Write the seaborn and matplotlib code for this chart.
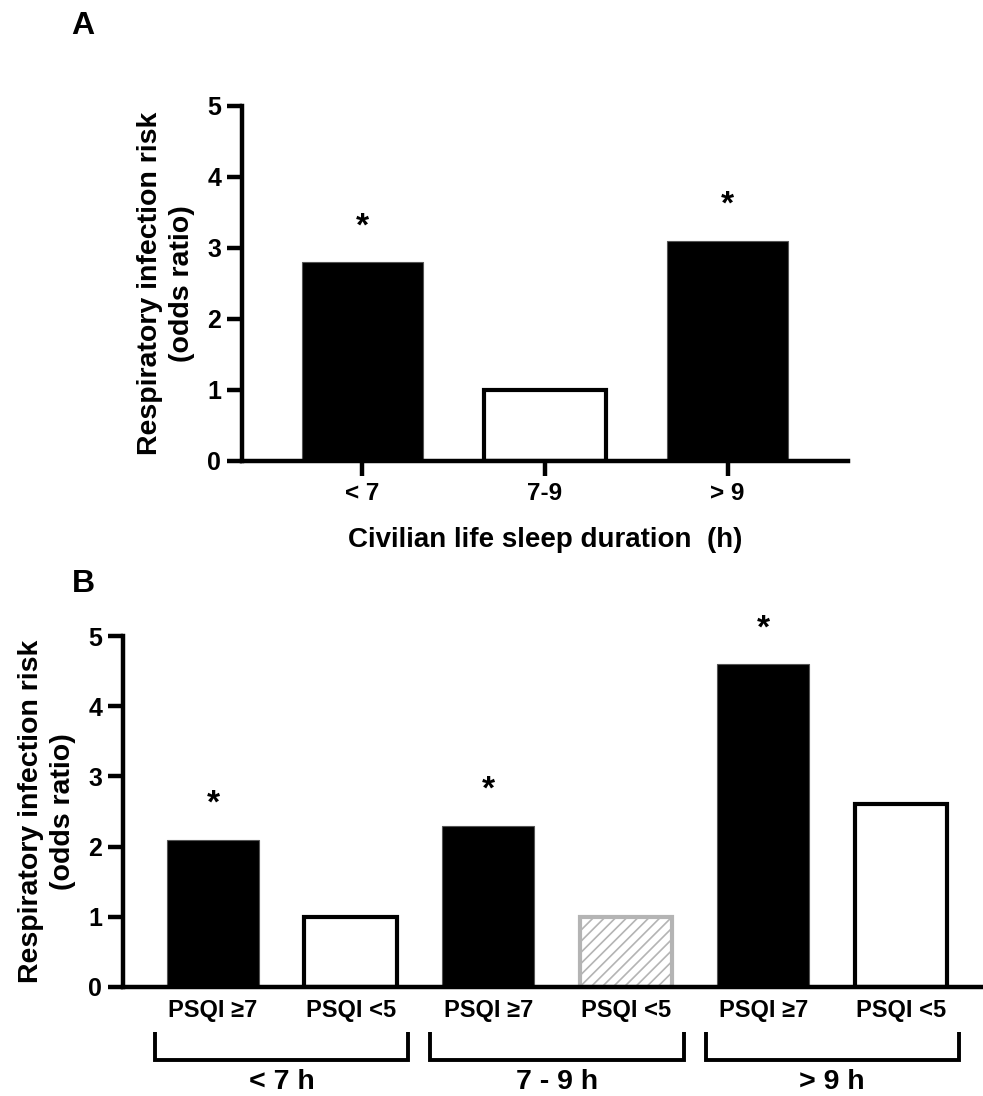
import matplotlib
matplotlib.use("Agg")
import matplotlib.pyplot as plt
import matplotlib.transforms as mtransforms
import seaborn as sns
import pandas as pd

sns.set_theme(style="white")
plt.rcParams['font.family'] = ['Liberation Sans', 'DejaVu Sans']
plt.rcParams['font.weight'] = 'bold'
plt.rcParams['text.color'] = 'black'
plt.rcParams['axes.labelcolor'] = 'black'
plt.rcParams['xtick.color'] = 'black'
plt.rcParams['ytick.color'] = 'black'
plt.rcParams['hatch.linewidth'] = 1.2

# ---------------- data ----------------
a_categories = ["< 7", "7-9", "> 9"]
a_values = [2.8, 1.0, 3.1]
a_significant = [True, False, True]

b_categories = ["<7 ≥7", "<7 <5", "7-9 ≥7", "7-9 <5", ">9 ≥7", ">9 <5"]
b_ticklabels = ["PSQI ≥7", "PSQI <5", "PSQI ≥7", "PSQI <5", "PSQI ≥7", "PSQI <5"]
b_values = [2.1, 1.0, 2.3, 1.0, 4.6, 2.6]
b_significant = [True, False, True, False, True, False]
b_groups = ["< 7 h", "7 - 9 h", "> 9 h"]

yticks = [0, 1, 2, 3, 4, 5]

# ---------------- styles ----------------
a_style = ["solid", "open", "solid"]
b_style = ["solid", "open", "solid", "hatch", "solid", "open"]

SPINE_LW = 3.2
TICK_LEN = 11


def style_bars(ax, styles):
    for patch, st in zip(ax.patches, styles):
        if st == "solid":
            patch.set_facecolor("black")
            patch.set_edgecolor("#555555")
            patch.set_linewidth(0.8)
        elif st == "open":
            patch.set_facecolor("white")
            patch.set_edgecolor("black")
            patch.set_linewidth(3.0)
        else:
            patch.set_facecolor("white")
            patch.set_edgecolor("#b4b4b4")
            patch.set_linewidth(3.0)
            patch.set_hatch("///")


def style_axes(ax):
    sns.despine(ax=ax)
    for s in ["left", "bottom"]:
        ax.spines[s].set_linewidth(SPINE_LW)
        ax.spines[s].set_color("black")
    ax.set_ylim(0, 5)
    ax.set_yticks(yticks)
    ax.set_yticklabels([str(t) for t in yticks], fontsize=18, fontweight='bold')
    ax.tick_params(axis='y', length=TICK_LEN, width=SPINE_LW, direction='out',
                   pad=4, colors='black', left=True)
    ax.set_facecolor("white")


fig = plt.figure(figsize=(9.83, 10.96), dpi=100)

# ---------------- panel A ----------------
axA = fig.add_axes([0.2462, 0.5794, 0.6165, 0.3239])
dfA = pd.DataFrame({"cat": a_categories, "val": a_values})
sns.barplot(data=dfA, x="cat", y="val", ax=axA, width=0.667, color="black",
            errorbar=None, zorder=1)
style_bars(axA, a_style)
style_axes(axA)
axA.set_xlim(-0.66, len(a_categories) - 1 + 0.66)
axA.set_xticks(range(len(a_categories)))
axA.set_xticklabels(a_categories, fontsize=17.5, fontweight='bold')
axA.tick_params(axis='x', length=TICK_LEN, width=SPINE_LW, direction='out',
                pad=4, colors='black', bottom=True)
axA.set_xlabel("Civilian life sleep duration  (h)", fontsize=20,
               fontweight='bold', labelpad=16)
axA.set_ylabel("Respiratory infection risk\n(odds ratio)", fontsize=20.5,
               fontweight='bold', linespacing=1.3)
axA.yaxis.set_label_coords(-0.078, 0.5)
for i, (v, sig) in enumerate(zip(a_values, a_significant)):
    if sig:
        axA.text(i, v + 0.5, "*", ha='center', va='center', fontsize=24,
                 fontweight='bold')

# ---------------- panel B ----------------
axB = fig.add_axes([0.1251, 0.0995, 0.8749, 0.3202])
dfB = pd.DataFrame({"cat": b_categories, "val": b_values})
sns.barplot(data=dfB, x="cat", y="val", ax=axB, width=0.67, color="black",
            errorbar=None, zorder=1)
style_bars(axB, b_style)
style_axes(axB)
axB.set_xlim(-0.654, len(b_categories) - 1 + 0.596)
axB.set_xticks(range(len(b_categories)))
axB.set_xticklabels(b_ticklabels, fontsize=17, fontweight='bold')
axB.tick_params(axis='x', length=0, pad=9, colors='black')
axB.set_xlabel("")
axB.set_ylabel("Respiratory infection risk\n(odds ratio)", fontsize=20.5,
               fontweight='bold', linespacing=1.3)
axB.yaxis.set_label_coords(-0.0547, 0.5)
for i, (v, sig) in enumerate(zip(b_values, b_significant)):
    if sig:
        axB.text(i, v + 0.5, "*", ha='center', va='center', fontsize=24,
                 fontweight='bold')

# group brackets
trans = mtransforms.blended_transform_factory(axB.transData, axB.transAxes)
for g, label in enumerate(b_groups):
    x0 = 2 * g - 0.42
    x1 = 2 * g + 1.42
    axB.plot([x0, x0, x1, x1], [-0.128, -0.207, -0.207, -0.128], transform=trans,
             color='black', lw=2.8, clip_on=False, solid_capstyle='butt',
             solid_joinstyle='miter')
    axB.text(2 * g + 0.5, -0.292, label, transform=trans, ha='center',
             va='baseline', fontsize=20.5, fontweight='bold')

# panel letters
fig.text(83 / 983, 1 - 26 / 1096, "A", ha='center', va='center', fontsize=23,
         fontweight='bold')
fig.text(83 / 983, 1 - 584 / 1096, "B", ha='center', va='center', fontsize=23,
         fontweight='bold')

fig.savefig("out.png", dpi=100, facecolor="white")
